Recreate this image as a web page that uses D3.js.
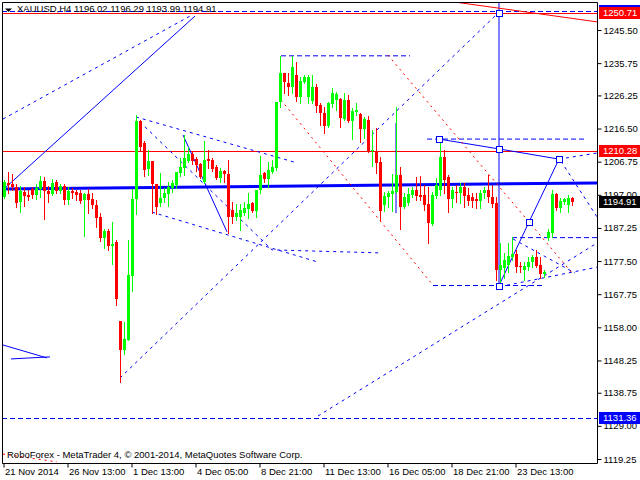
<!DOCTYPE html>
<html><head><meta charset="utf-8">
<script src="https://cdn.jsdelivr.net/npm/d3@7"></script>
<style>body{margin:0;background:#fff}svg{display:block}text{font-family:"Liberation Sans",Arial,sans-serif}</style>
</head><body><svg id="c" width="640" height="480"></svg>
<script>
// ---- DATA (XAUUSD H4, bar index 0..142) ----
const opens=[1196.4,1200.6,1200.2,1199.2,1195.0,1197.8,1196.9,1198.6,1196.9,1198.8,
1201.0,1198.1,1197.2,1200.8,1198.2,1199.5,1195.6,1198.2,1197.9,1197.4,
1195.5,1197.2,1195.8,1194.0,1190.6,1184.4,1186.3,1181.9,1183.1,1159.8,
1151.3,1154.3,1173.2,1195.7,1218.7,1212.3,1204.5,1206.9,1200.1,1194.7,
1196.0,1197.2,1198.9,1199.9,1203.5,1204.8,1206.9,1208.9,1207.4,1206.0,
1200.9,1207.4,1207.2,1205.3,1202.0,1204.0,1203.1,1192.5,1190.6,1190.4,
1191.7,1192.7,1194.5,1192.3,1198.4,1203.3,1201.6,1203.8,1204.8,1224.4,
1232.8,1229.8,1228.8,1232.3,1225.9,1230.2,1225.7,1224.7,1228.8,1223.4,
1221.2,1217.2,1223.7,1224.9,1225.1,1219.3,1224.9,1218.8,1221.4,1220.8,
1216.4,1219.0,1209.9,1210.0,1206.7,1194.0,1196.3,1197.2,1197.9,1202.8,
1193.5,1194.5,1197.0,1198.4,1196.9,1196.9,1194.3,1188.4,1196.6,1198.4,
1208.2,1202.3,1195.8,1197.9,1197.4,1199.4,1196.9,1196.4,1195.7,1195.3,
1197.4,1198.4,1196.3,1194.5,1174.9,1175.4,1176.3,1178.8,1179.6,1176.0,
1174.9,1175.8,1177.1,1178.6,1176.3,1173.7,1184.2,1185.7,1197.1,1193.2,
1195.0,1194.0,1196.02];
const highs=[1201.4,1203.8,1203.1,1200.2,1199.6,1199.4,1198.4,1199.3,1200.2,1202.5,
1202.3,1199.6,1201.6,1201.4,1200.2,1200.2,1199.2,1198.9,1198.4,1198.4,
1197.6,1198.6,1197.4,1195.5,1191.6,1186.9,1186.9,1189.1,1183.7,1159.9,
1159.6,1183.7,1198.8,1220.5,1218.9,1212.9,1210.2,1207.0,1200.2,1203.4,
1199.1,1200.9,1201.4,1203.6,1207.7,1214.6,1211.2,1209.7,1208.0,1206.3,
1212.9,1210.2,1207.7,1205.8,1204.8,1204.3,1207.2,1195.0,1194.3,1194.3,
1195.0,1197.6,1195.0,1198.4,1208.4,1203.8,1206.7,1207.2,1224.4,1237.8,
1232.8,1232.8,1237.8,1236.1,1231.8,1232.3,1232.3,1232.3,1229.6,1224.1,
1222.9,1224.4,1228.3,1227.3,1225.5,1227.0,1226.4,1222.5,1223.9,1221.0,
1219.8,1220.2,1216.1,1216.6,1208.2,1197.9,1198.1,1203.1,1222.9,1205.1,
1197.5,1198.9,1199.4,1202.3,1202.5,1199.9,1199.4,1197.9,1201.9,1213.3,
1210.2,1202.8,1199.2,1199.9,1200.4,1200.4,1198.9,1197.4,1197.4,1198.4,
1199.2,1202.8,1199.9,1196.3,1182.7,1179.8,1182.7,1184.5,1180.8,1177.3,
1177.2,1178.8,1179.3,1180.8,1178.8,1174.9,1186.9,1198.4,1197.4,1196.0,
1196.0,1196.9,1196.29];
const lows=[1196.1,1197.5,1198.4,1193.5,1192.0,1193.8,1195.5,1196.1,1195.7,1196.4,
1189.8,1195.0,1196.8,1197.6,1197.6,1194.2,1194.2,1196.0,1195.5,1194.5,
1184.9,1191.7,1193.0,1187.6,1183.5,1181.3,1180.9,1176.6,1164.6,1142.0,
1150.1,1154.3,1168.7,1191.4,1210.2,1202.6,1202.8,1191.7,1191.3,1193.7,
1195.0,1193.7,1197.9,1198.9,1202.5,1202.8,1206.6,1206.2,1204.1,1201.8,
1200.6,1204.9,1204.1,1201.6,1200.9,1200.9,1185.7,1188.6,1189.6,1186.6,
1191.0,1190.1,1192.0,1190.5,1197.6,1200.9,1199.4,1203.3,1204.3,1222.9,
1226.9,1226.4,1226.9,1224.7,1224.1,1229.8,1224.1,1223.9,1221.5,1217.5,
1215.3,1217.0,1222.9,1221.9,1216.9,1219.0,1218.5,1213.4,1220.5,1212.6,
1213.6,1209.7,1205.5,1203.3,1189.6,1192.3,1193.4,1192.3,1197.4,1186.8,
1193.0,1194.0,1196.4,1195.5,1195.5,1192.5,1182.7,1188.1,1196.0,1196.9,
1197.4,1192.0,1193.5,1195.0,1194.5,1193.5,1194.0,1193.5,1193.0,1193.0,
1196.0,1195.0,1193.5,1171.9,1170.5,1172.4,1174.4,1177.8,1174.4,1174.4,
1171.9,1174.9,1175.8,1175.8,1172.4,1172.9,1183.7,1184.7,1192.5,1192.0,
1194.3,1192.0,1193.99];
const closes=[1200.9,1200.0,1199.4,1194.7,1198.0,1196.6,1196.4,1197.0,1198.9,1201.1,
1198.0,1197.1,1200.4,1198.1,1199.6,1195.6,1198.2,1197.6,1197.0,1195.3,
1197.2,1195.5,1194.0,1190.3,1184.3,1186.4,1181.9,1182.5,1166.3,1151.3,
1154.6,1173.4,1195.8,1218.7,1211.2,1204.3,1206.9,1200.1,1193.5,1196.2,
1197.6,1199.2,1200.4,1203.6,1205.3,1207.9,1209.0,1206.9,1205.8,1202.3,
1207.2,1207.0,1204.5,1202.0,1204.0,1203.1,1190.4,1190.4,1191.7,1192.5,
1193.0,1194.2,1192.3,1198.4,1202.8,1201.6,1204.3,1205.3,1224.4,1232.8,
1230.3,1228.8,1234.7,1225.9,1230.5,1231.6,1231.6,1228.8,1223.1,1221.0,
1217.2,1224.1,1227.0,1226.7,1219.5,1224.9,1218.7,1221.7,1222.0,1216.4,
1219.2,1210.0,1210.2,1206.4,1192.3,1196.6,1197.4,1198.2,1202.8,1193.5,
1196.4,1197.1,1198.4,1196.6,1196.4,1194.0,1188.8,1196.9,1199.9,1208.2,
1201.4,1195.8,1198.4,1197.4,1199.4,1196.6,1195.3,1195.3,1195.3,1197.6,
1198.4,1196.3,1194.3,1174.9,1176.3,1177.8,1179.0,1179.6,1175.7,1175.7,
1176.0,1177.3,1178.8,1176.0,1173.7,1174.2,1186.1,1197.1,1193.2,1195.3,
1195.7,1196.0,1194.91];

const priceTicks=[1245.50,1235.75,1226.25,1216.50,1206.75,1197.00,1187.25,1177.50,1167.75,1158.00,1148.25,1138.75,1129.00,1119.25];
const timeTickBars=[0,16,32,48,64,80,96,112,128];
const timeTickLabels=["21 Nov 2014","26 Nov 13:00","1 Dec 13:00","4 Dec 05:00","8 Dec 21:00","11 Dec 13:00","16 Dec 05:00","18 Dec 21:00","23 Dec 13:00"];

const redLevels=[1250.71,1210.28];
const blueDashLevels=[1251.2,1131.36];
const blueDashLevelShowText=[false,true];

// drawn objects, as [bar index, price] points
const thickBlueSegs=[[[-0.5,1198.7],[148.25,1200.5]]];
const blueSolidSegs=[
 [[0.25,1199.0],[47.75,1249.6]],
 [[44.75,1214.6],[55.75,1186.1]],
 [[108.75,1213.4],[123.75,1210.5],[138.75,1207.5]],
 [[123.75,1170.3],[131.25,1189.0],[138.75,1207.5]],
 [[123.75,1253.6],[123.75,1170.3]],
 [[98,1218.1],[98,1191.6]],
 [[-0.25,1152.8],[10.75,1149.0]],
 [[1.75,1148.7],[11.5,1149.3]]
];
const blueDashSegs=[
 [[-0.25,1219.3],[46.5,1249.6]],
 [[29,1143.1],[123.25,1250.2]],
 [[78.5,1131.9],[148.25,1182.8]],
 [[33,1219.9],[73.25,1206.4]],
 [[37,1191.9],[78.5,1177.2]],
 [[35.25,1217.0],[67,1180.8],[94,1179.9]],
 [[69.25,1237.9],[101.5,1237.9]],
 [[107.25,1170.3],[135.25,1170.3]],
 [[105.75,1213.4],[145.75,1213.4]],
 [[127,1184.4],[148.25,1184.4]],
 [[138.75,1207.5],[148.25,1209.3]],
 [[139.25,1206.9],[148.25,1190.5]],
 [[125.75,1170.4],[148.25,1175.7]],
 [[127.25,1184.0],[142.75,1174.0]]
];
const redDotSegs=[
 [[69.25,1224.9],[107.25,1170.4]],
 [[96,1238.1],[142,1174.0]],
 [[-0.25,1120.7],[13.25,1118.4]]
];
const redSolidSegs=[[[113.5,1253.6],[148.25,1247.9]]];
const markers=[[108.75,1213.4],[123.75,1210.5],[123.75,1250.5],[123.75,1170.3],[131.25,1189.0],[138.75,1207.5]];

// ---- DRAWING ----
const svg=d3.select("#c");
const L=2,T=2,R=597,B=463;
const x=d3.scaleLinear().domain([0,142]).range([4,572]);
const y=d3.scaleLinear().domain([1119.25,1245.50]).range([459,30]);
const FONT='"Liberation Sans",Arial,sans-serif', FS=9.5;

svg.append("rect").attr("width",640).attr("height",480).attr("fill","#fff");
svg.append("defs").append("clipPath").attr("id","clip").append("rect")
  .attr("x",L+1).attr("y",T+1).attr("width",R-L-1).attr("height",B-T-1);

const g=svg.append("g").attr("clip-path","url(#clip)");
const line=d3.line().x(d=>x(d[0])).y(d=>y(d[1]));
const snap=v=>Math.round(v)+0.5;

// full-width levels
g.selectAll(".bl").data(blueDashLevels).join("line").attr("x1",L).attr("x2",R)
  .attr("y1",d=>snap(y(d))).attr("y2",d=>snap(y(d))).attr("stroke","#0000ff").attr("stroke-width",1).attr("stroke-dasharray","5,3");
g.selectAll(".rl").data(redLevels).join("line").attr("x1",L).attr("x2",R)
  .attr("y1",d=>snap(y(d))+1).attr("y2",d=>snap(y(d))+1).attr("stroke","#ff0000").attr("stroke-width",1);

g.selectAll(".tb").data(thickBlueSegs).join("path").attr("d",line).attr("fill","none")
  .attr("stroke","#0000ff").attr("stroke-width",3);
g.selectAll(".bd").data(blueDashSegs).join("path").attr("d",line).attr("fill","none")
  .attr("stroke","#0000ff").attr("stroke-width",1).attr("stroke-dasharray",d=>d[0][1]===d[d.length-1][1]?"5,3":"3,4");
g.selectAll(".bs").data(blueSolidSegs).join("path").attr("d",line).attr("fill","none")
  .attr("stroke","#0000ff").attr("stroke-width",1);
g.selectAll(".rd").data(redDotSegs).join("path").attr("d",line).attr("fill","none")
  .attr("stroke","#ff0000").attr("stroke-width",1).attr("stroke-dasharray","2,4");
g.selectAll(".rs").data(redSolidSegs).join("path").attr("d",line).attr("fill","none")
  .attr("stroke","#ff0000").attr("stroke-width",1);

// candles
const idx=d3.range(opens.length);
const cg=g.append("g").attr("shape-rendering","crispEdges");
const col=i=>closes[i]>=opens[i]?"#00ff00":"#ff0000";
cg.selectAll(".w").data(idx).join("line")
  .attr("x1",i=>Math.round(x(i))+0.5).attr("x2",i=>Math.round(x(i))+0.5)
  .attr("y1",i=>Math.round(y(highs[i]))).attr("y2",i=>Math.round(y(lows[i]))+1)
  .attr("stroke",col);
cg.selectAll(".b").data(idx).join("rect")
  .attr("x",i=>Math.round(x(i))-1).attr("width",3)
  .attr("y",i=>Math.round(y(Math.max(opens[i],closes[i]))))
  .attr("height",i=>Math.max(1,Math.round(y(Math.min(opens[i],closes[i])))-Math.round(y(Math.max(opens[i],closes[i])))))
  .attr("fill",col);

// markers
g.selectAll(".mk").data(markers).join("rect")
  .attr("x",d=>Math.round(x(d[0]))-2.5).attr("y",d=>Math.round(y(d[1]))-2.5)
  .attr("width",6).attr("height",6).attr("fill","#fff").attr("stroke","#0000ff");

// header (on top)
const n=opens.length-1;
svg.append("path").attr("d","M5,8.5 L12,8.5 L8.5,12 Z").attr("fill","#000");
svg.append("text").attr("x",17).attr("y",12).attr("font-size",FS).attr("fill","#000")
  .text(`XAUUSD,H4  ${opens[n].toFixed(2)} ${highs[n].toFixed(2)} ${lows[n].toFixed(2)} ${closes[n].toFixed(2)}`);

// copyright
svg.append("text").attr("x",7).attr("y",458).attr("font-size",FS).attr("fill","#000")
  .text("RoboForex - MetaTrader 4, \u00a9 2001-2014, MetaQuotes Software Corp.");

// frame
svg.append("path").attr("d",`M${L+0.5},${B+0.5} V${T+0.5} H${R+0.5} V${B+0.5} H${L+0.5}`)
  .attr("fill","none").attr("stroke","#000");

// axes
const ya=svg.append("g").attr("transform",`translate(${R+0.5},0)`)
  .call(d3.axisRight(y).tickValues(priceTicks).tickFormat(d3.format(".2f")).tickSize(4).tickPadding(2));
ya.select(".domain").remove();
ya.attr("font-family",FONT).attr("font-size",FS);
ya.selectAll("line").attr("stroke","#000");
ya.selectAll("text").attr("fill","#000");

const xa=svg.append("g").attr("transform",`translate(-0.5,${B+0.5})`)
  .call(d3.axisBottom(x).tickValues(timeTickBars).tickFormat((d,i)=>timeTickLabels[i]).tickSize(4).tickPadding(1));
xa.select(".domain").remove();
xa.attr("font-family",FONT).attr("font-size",FS);
xa.selectAll("text").attr("text-anchor","start").attr("dx",1).attr("fill","#000");

// price label boxes
function priceBox(v,bg,off,showText){
  const cy=Math.round(y(v))+off;
  svg.append("rect").attr("x",R+2).attr("y",cy-6).attr("width",640-R-2).attr("height",12).attr("fill",bg);
  if(showText) svg.append("text").attr("x",R+6).attr("y",cy).attr("dy","0.35em").attr("font-size",FS).attr("fill","#fff").text(v.toFixed(2));
}
blueDashLevels.forEach((v,i)=>priceBox(v,"#0000ff",0,blueDashLevelShowText[i]));
redLevels.forEach(v=>priceBox(v,"#ff0000",1,true));
priceBox(closes[n],"#000000",0,true);
</script></body></html>
